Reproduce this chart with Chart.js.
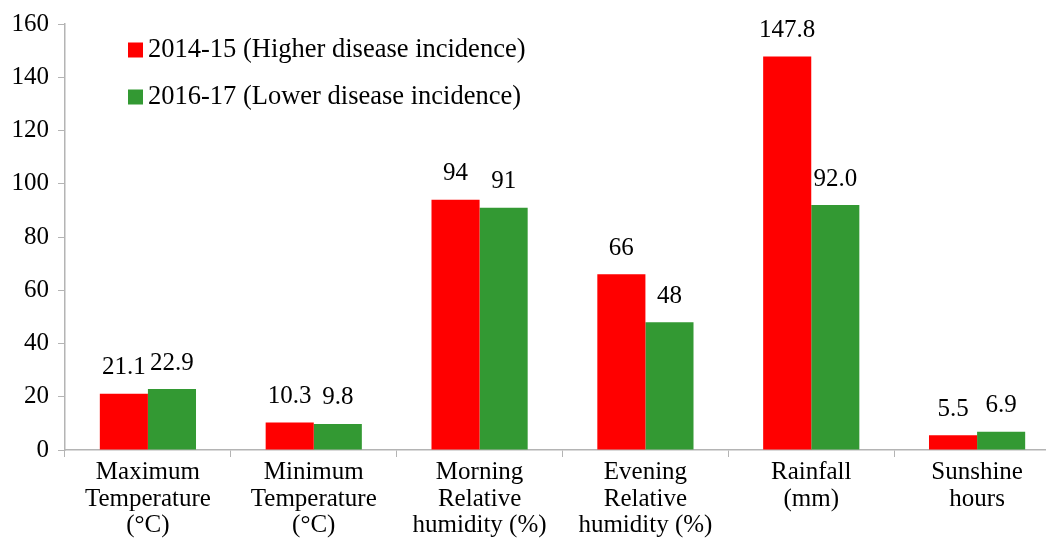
<!DOCTYPE html>
<html>
<head>
<meta charset="utf-8">
<script src="https://cdn.jsdelivr.net/npm/chart.js@4/dist/chart.umd.min.js"></script>
<style>
  html, body { margin: 0; padding: 0; overflow: hidden; background: #fff; }
  #wrap { width: 1062px; height: 542px; }
</style>
</head>
<body>
<div id="wrap"><canvas id="weatherBar" width="1062" height="542"></canvas></div>
<script>
const categories = [
  ["Maximum", "Temperature", "(°C)"],
  ["Minimum", "Temperature", "(°C)"],
  ["Morning", "Relative", "humidity (%)"],
  ["Evening", "Relative", "humidity (%)"],
  ["Rainfall", "(mm)"],
  ["Sunshine", "hours"],
];
const seriesNames = ["2014-15 (Higher disease incidence)", "2016-17 (Lower disease incidence)"];
const highIncidence = [21.1, 10.3, 94, 66, 147.8, 5.5];
const lowIncidence = [22.9, 9.8, 91, 48, 92.0, 6.9];
const highLabels = ["21.1", "10.3", "94", "66", "147.8", "5.5"];
const lowLabels = ["22.9", "9.8", "91", "48", "92.0", "6.9"];
const yTicks = [0, 20, 40, 60, 80, 100, 120, 140, 160];

const serif = "'Liberation Serif', 'Times New Roman', serif";
const axisGray = "#b4b4b4";

// value labels above each bar
const barLabels = {
  id: "barLabels",
  afterDatasetsDraw(chart) {
    const ctx = chart.ctx;
    ctx.save();
    ctx.font = "25px " + serif;
    ctx.fillStyle = "#000";
    ctx.textAlign = "center";
    ctx.textBaseline = "middle";
    chart.data.datasets.forEach((ds, i) => {
      chart.getDatasetMeta(i).data.forEach((bar, j) => {
        ctx.fillText(ds.valueLabels[j], bar.x, bar.y - 26);
      });
    });
    ctx.restore();
  },
};

// legend sitting inside the plot, top left
const innerLegend = {
  id: "innerLegend",
  afterDraw(chart) {
    const ctx = chart.ctx;
    ctx.save();
    ctx.font = "26.5px " + serif;
    ctx.textBaseline = "middle";
    ctx.textAlign = "left";
    chart.data.datasets.forEach((ds, i) => {
      const y = 50 + i * 47;
      ctx.fillStyle = ds.backgroundColor;
      ctx.fillRect(128, y - 7.5, 15, 15);
      ctx.fillStyle = "#000";
      ctx.fillText(ds.label, 148, y);
    });
    ctx.restore();
  },
};

const weatherBarConfig = {
  type: "bar",
  data: {
    labels: categories,
    datasets: [
      {
        label: seriesNames[0],
        data: highIncidence,
        valueLabels: highLabels,
        backgroundColor: "#ff0000",
        categoryPercentage: 0.58,
        barPercentage: 1.0,
      },
      {
        label: seriesNames[1],
        data: lowIncidence,
        valueLabels: lowLabels,
        backgroundColor: "#339933",
        categoryPercentage: 0.58,
        barPercentage: 1.0,
      },
    ],
  },
  options: {
    responsive: false,
    animation: false,
    devicePixelRatio: 1,
    layout: { padding: { top: 24, right: 2, left: 0, bottom: 0 } },
    plugins: {
      legend: { display: false },
      tooltip: { enabled: false },
    },
    scales: {
      x: {
        grid: {
          offset: true,
          drawOnChartArea: false,
          tickLength: 7,
          color: axisGray,
        },
        border: { color: axisGray, width: 1.5 },
        ticks: {
          color: "#000",
          font: { family: serif, size: 25, lineHeight: 1.07 },
          padding: 2,
          maxRotation: 0,
          autoSkip: false,
        },
        afterFit(scale) { scale.height = 92; },
      },
      y: {
        min: 0,
        max: 160,
        afterBuildTicks(scale) { scale.ticks = yTicks.map(v => ({ value: v })); },
        grid: {
          drawOnChartArea: false,
          tickLength: 7,
          color: axisGray,
        },
        border: { color: axisGray, width: 1.5 },
        ticks: {
          color: "#000",
          font: { family: serif, size: 25 },
          padding: 9,
        },
        afterFit(scale) { scale.width = 65; },
      },
    },
  },
  plugins: [barLabels, innerLegend],
};

const weatherChart = new Chart(document.getElementById("weatherBar"), weatherBarConfig);
</script>
</body>
</html>
